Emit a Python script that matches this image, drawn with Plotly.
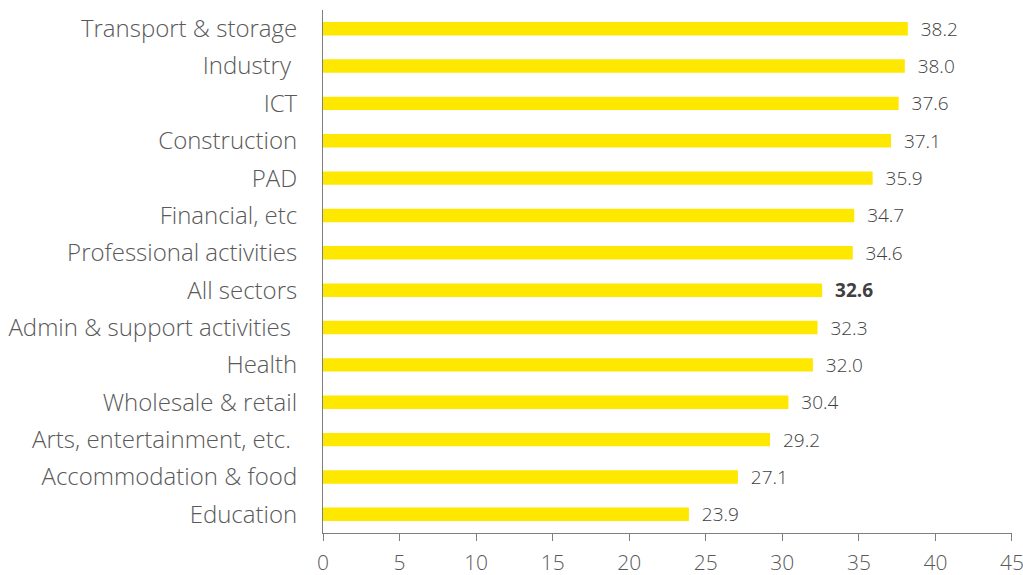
import plotly.graph_objects as go

categories = ["Transport & storage", "Industry ", "ICT", "Construction", "PAD",
              "Financial, etc", "Professional activities", "All sectors",
              "Admin & support activities ", "Health", "Wholesale & retail",
              "Arts, entertainment, etc. ", "Accommodation & food", "Education"]
values = [38.2, 38.0, 37.6, 37.1, 35.9, 34.7, 34.6, 32.6, 32.3, 32.0, 30.4, 29.2, 27.1, 23.9]
tick_vals = [0, 5, 10, 15, 20, 25, 30, 35, 40, 45]

labels = []
for c, v in zip(categories, values):
    s = f"{v:.1f}"
    labels.append("  <b>" + s + "</b>" if c == "All sectors" else "  " + s)

FONT = "Open Sans, Lato, sans-serif"

fig = go.Figure(go.Bar(
    x=values, y=categories, orientation="h",
    marker=dict(color="#FFE800", line=dict(width=0)),
    width=0.36,
    text=labels, textposition="outside", cliponaxis=False,
    constraintext="none", hoverinfo="skip",
    textfont=dict(family=FONT, size=19, color="#404040"),
))

fig.update_layout(
    width=1023, height=575,
    margin=dict(l=323, r=11, t=10, b=42, autoexpand=False),
    plot_bgcolor="white", paper_bgcolor="white",
    font=dict(family=FONT, weight=300, color="#595959"),
    showlegend=False,
    xaxis=dict(range=[0, 45.001], tickvals=tick_vals, showgrid=False, zeroline=False,
               showline=True, linecolor="#7f7f7f", linewidth=1, automargin=False,
               ticks="outside", ticklen=7, tickcolor="#7f7f7f", ticklabelstandoff=4,
               ticklabeloverflow="allow",
               tickfont=dict(size=21, color="#595959", weight=300)),
    yaxis=dict(autorange="reversed", showgrid=False, zeroline=False,
               showline=True, linecolor="#7f7f7f", linewidth=1, automargin=False,
               ticks="", ticklabelstandoff=20,
               tickfont=dict(size=24, color="#595959", weight=300)),
)

fig.write_html("out.html", config={"displayModeBar": False},
               post_script="document.body.style.margin='0';document.body.style.overflow='hidden';")
